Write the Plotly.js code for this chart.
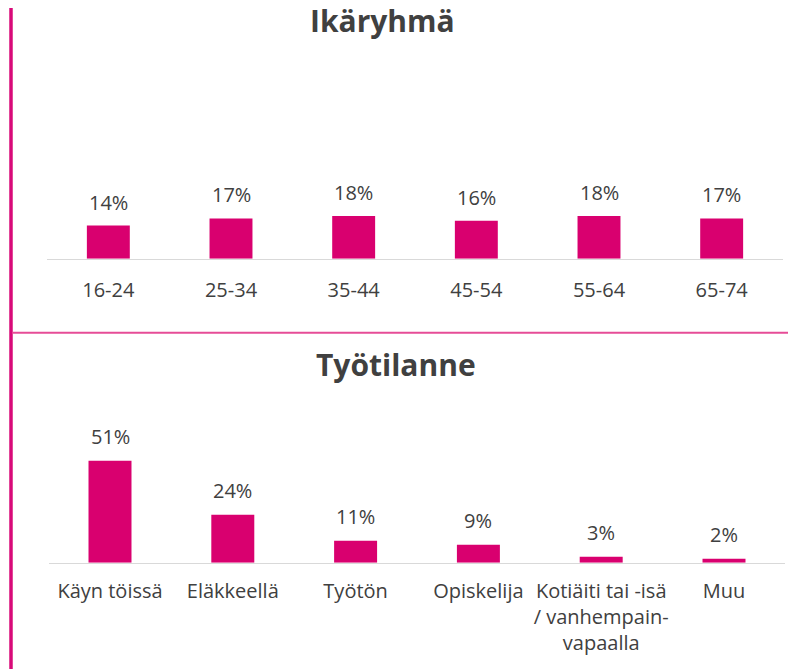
<!DOCTYPE html>
<html>
<head>
<meta charset="utf-8">
<script src="https://cdn.plot.ly/plotly-3.0.1.min.js"></script>
<style>html,body{margin:0;padding:0;background:#fff;}#chart{width:788px;height:669px;}</style>
</head>
<body>
<div id="chart"></div>
<script>
var ageTitle = "Ikäryhmä";
var ageCategories = ["16-24", "25-34", "35-44", "45-54", "55-64", "65-74"];
var ageValues = [14, 17, 18, 16, 18, 17];

var workTitle = "Työtilanne";
var workCategories = ["Käyn töissä", "Eläkkeellä", "Työtön", "Opiskelija", "Kotiäiti tai -isä<br>/ vanhempain-<br>vapaalla", "Muu"];
var workValues = [51, 24, 11, 9, 3, 2];

var W = 788, H = 669;
var barColor = "#d9006f";
var textColor = "#404040";
var fontFam = "'Open Sans', 'Noto Sans', sans-serif";

function px(x){ return x / W; }
function py(y){ return 1 - y / H; }

var traces = [
  {type: "bar", x: ageCategories, y: ageValues, xaxis: "x", yaxis: "y",
   marker: {color: barColor}, hoverinfo: "none"},
  {type: "bar", x: workCategories, y: workValues, xaxis: "x2", yaxis: "y2",
   marker: {color: barColor}, hoverinfo: "none"}
];

var annotations = [];
ageCategories.forEach(function(c, i){
  annotations.push({x: c, y: ageValues[i], xref: "x", yref: "y", text: ageValues[i] + "%",
    showarrow: false, yanchor: "bottom", yshift: 8, font: {family: fontFam, size: 20, color: textColor}});
});
workCategories.forEach(function(c, i){
  annotations.push({x: c, y: workValues[i], xref: "x2", yref: "y2", text: workValues[i] + "%",
    showarrow: false, yanchor: "bottom", yshift: 9, font: {family: fontFam, size: 20, color: textColor}});
});
annotations.push({x: px(382), y: py(21), xref: "paper", yref: "paper", text: "<b>" + ageTitle + "</b>",
  showarrow: false, xanchor: "center", yanchor: "middle", font: {family: fontFam, size: 30, color: textColor}});
annotations.push({x: px(396), y: py(365), xref: "paper", yref: "paper", text: "<b>" + workTitle + "</b>",
  showarrow: false, xanchor: "center", yanchor: "middle", font: {family: fontFam, size: 30, color: textColor}});

var xaxisBase = {
  type: "category", showgrid: false, zeroline: false, showline: true,
  linecolor: "#d9d9d9", linewidth: 1.5, ticks: "", fixedrange: true,
  tickfont: {family: fontFam, size: 20, color: textColor}
};
var yaxisBase = {range: [0, 60], visible: false, fixedrange: true, showgrid: false, zeroline: false};

var layout = {
  width: W, height: H,
  margin: {l: 0, r: 0, t: 0, b: 0},
  paper_bgcolor: "#ffffff", plot_bgcolor: "#ffffff",
  showlegend: false,
  bargap: 0.65,
  xaxis: Object.assign({}, xaxisBase, {domain: [px(47), px(783)], anchor: "y", ticklabelstandoff: 13}),
  yaxis: Object.assign({}, yaxisBase, {domain: [py(258.7), py(258.7 - 2.37 * 60)], anchor: "x"}),
  xaxis2: Object.assign({}, xaxisBase, {domain: [px(48.6), px(785.4)], anchor: "y2", ticklabelstandoff: 10}),
  yaxis2: Object.assign({}, yaxisBase, {domain: [py(562.7), py(562.7 - 2.0 * 60)], anchor: "x2"}),
  annotations: annotations,
  shapes: [
    {type: "line", xref: "paper", yref: "paper", x0: px(11), x1: px(11), y0: 0, y1: py(8),
     line: {color: "#d80a79", width: 3.5}},
    {type: "line", xref: "paper", yref: "paper", x0: px(12), x1: 1, y0: py(332.7), y1: py(332.7),
     line: {color: "#e64c97", width: 2}}
  ]
};

Plotly.newPlot("chart", traces, layout, {staticPlot: true, displayModeBar: false});
</script>
</body>
</html>
